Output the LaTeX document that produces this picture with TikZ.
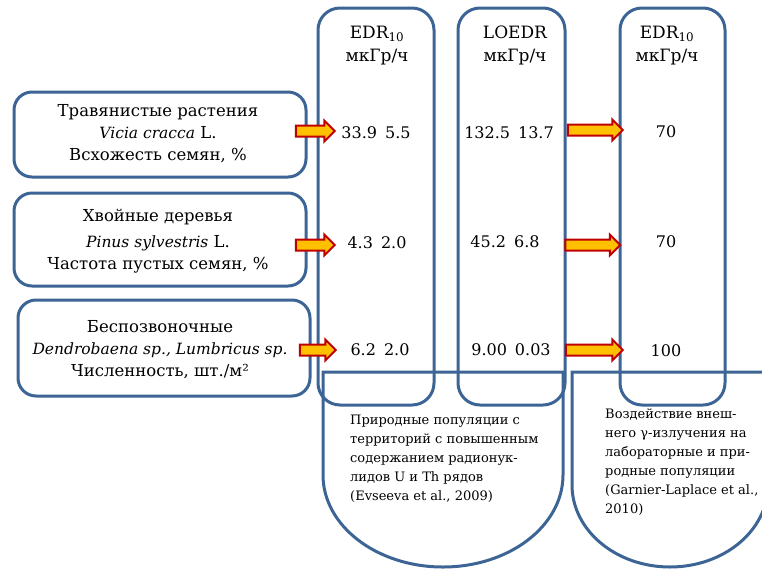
\documentclass[tikz,border=0pt]{standalone}
\usepackage{fontspec}
\setmainfont{DejaVu Serif}
\usetikzlibrary{positioning,shapes.arrows}
\definecolor{boxblue}{HTML}{3C6595}
\definecolor{arrred}{HTML}{C00000}
\definecolor{arrfill}{HTML}{FFC000}
\tikzset{lbox/.style={draw=boxblue,line width=3pt,rounded corners=18pt,inner sep=0pt}}
\tikzset{colbox/.style={draw=boxblue,line width=3pt,rounded corners=22pt,inner sep=0pt}}
\tikzset{ubox/.style={draw=boxblue,line width=3pt}}
\tikzset{blockarrow/.style={single arrow,draw=arrred,fill=arrfill,line width=2pt,inner sep=0pt,inner ysep=4.5pt,single arrow head extend=5pt,single arrow tip angle=90}}
\tikzset{lbl/.style={align=center,font=\fontsize{16.5}{22}\selectfont}}
\tikzset{hdr/.style={align=center,font=\fontsize{17}{23}\selectfont}}
\tikzset{val/.style={font=\fontsize{16}{18}\selectfont}}
\tikzset{note/.style={align=left,anchor=north west,inner sep=0pt,font=\fontsize{13}{19}\selectfont}}
\newcommand{\spname}[1]{{\fontsize{15.5}{22}\selectfont\itshape #1}}

\begin{document}
\begin{tikzpicture}[x=1pt,y=-1pt]
\useasboundingbox[fill=white] (0,0) rectangle (762,570);
% columns
\node[colbox,minimum width=116pt,minimum height=397pt] (edr) at (376,206.5) {};
\node[colbox,minimum width=107pt,minimum height=397pt] (loedr) at (511.5,206.5) {};
\node[colbox,minimum width=105pt,minimum height=397pt] (edrlab) at (672.5,206.5) {};
\node[hdr] (edrh) at (377,46) {EDR\textsubscript{10}\\мкГр/ч};
\node[hdr] (loedrh) at (515,45) {LOEDR\\мкГр/ч};
\node[hdr] (edrlabh) at (667,46) {EDR\textsubscript{10}\\мкГр/ч};

% left boxes
\node[lbox,minimum width=292pt,minimum height=85pt] (herb) at (160,134.5) {};
\node[lbox,minimum width=292pt,minimum height=93pt] (conif) at (160,239.5) {};
\node[lbox,minimum width=292pt,minimum height=96pt] (invert) at (164,348) {};
\node[lbl] (herbt) at (158,134) {Травянистые растения\\\spname{Vicia cracca} L.\\Всхожесть семян, \%};
\node[lbl] (conift) at (158,241) {Хвойные деревья\\[4pt]\spname{Pinus sylvestris} L.\\Частота пустых семян, \%};
\node[lbl] (invertt) at (160,350) {Беспозвоночные\\\spname{Dendrobaena sp., Lumbricus sp.}\\Численность, шт./м²};

% values
\node[val] (v11) at (376,133) {33.9\hspace{8pt}5.5};
\node[val] (v12) at (509,133) {132.5\hspace{8pt}13.7};
\node[val] (v13) at (666,132) {70};
\node[val] (v21) at (377,243) {4.3\hspace{8pt}2.0};
\node[val] (v22) at (505,242) {45.2\hspace{8pt}6.8};
\node[val] (v23) at (666,242) {70};
\node[val] (v31) at (380,350) {6.2\hspace{8pt}2.0};
\node[val] (v32) at (511,350) {9.00\hspace{8pt}0.03};
\node[val] (v33) at (666,351) {100};

% arrows
\node[blockarrow,minimum height=39pt] (a11) at (312.5,131) {};
\node[blockarrow,minimum height=39pt] (a21) at (312.5,245) {};
\node[blockarrow,minimum height=36pt] (a31) at (315,350) {};
\node[blockarrow,minimum height=55pt] (a12) at (592.5,130) {};
\node[blockarrow,minimum height=55pt] (a22) at (590,245) {};
\node[blockarrow,minimum height=57pt] (a32) at (591.5,350) {};

% sources
\draw[ubox] (323,372) -- (563,372) -- (563,475) arc[start angle=0,end angle=-180,x radius=120pt,y radius=92pt] -- cycle;
\draw[ubox] (764,372) -- (572,372) -- (572,485) arc[start angle=180,end angle=360,x radius=98pt,y radius=82pt];
\node[note] (srcnat) at (350,415) {Природные популяции с\\территорий с повышенным\\содержанием радионук-\\лидов U и Th рядов\\(Evseeva et al., 2009)};
\node[note] (srclab) at (605,409) {Воздействие внеш-\\него γ-излучения на\\лабораторные и при-\\родные популяции\\(Garnier-Laplace et al.,\\2010)};
\end{tikzpicture}
\end{document}
